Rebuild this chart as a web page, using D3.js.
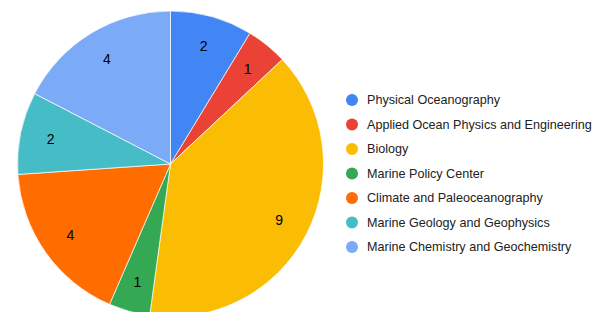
<!DOCTYPE html>
<html><head><meta charset="utf-8">
<script src="https://cdn.jsdelivr.net/npm/d3@7"></script>
<style>body{margin:0;background:#fff}svg{display:block}</style>
</head><body>
<svg id="c" width="599" height="312"></svg>
<script>
const categories = ["Physical Oceanography","Applied Ocean Physics and Engineering","Biology","Marine Policy Center","Climate and Paleoceanography","Marine Geology and Geophysics","Marine Chemistry and Geochemistry"];
const values = [2,1,9,1,4,2,4];
const colors = ["#4285F4","#EA4335","#FBBC04","#34A853","#FF6D01","#46BDC6","#7BAAF7"];

const svg = d3.select("#c");
const cx = 170.5, cy = 164, r = 153;
const data = categories.map((c,i)=>({name:c,value:values[i],color:colors[i]}));
const pie = d3.pie().value(d=>d.value).sort(null);
const arcs = pie(data);
const arc = d3.arc().innerRadius(0).outerRadius(r);
const labelArc = d3.arc().innerRadius(r*0.8).outerRadius(r*0.8);
const g = svg.append("g").attr("transform",`translate(${cx},${cy})`);
g.selectAll("path").data(arcs).join("path")
  .attr("d",arc).attr("fill",d=>d.data.color)
  .attr("stroke","#fff").attr("stroke-width",0.7);
g.selectAll("text").data(arcs).join("text")
  .attr("transform",d=>`translate(${labelArc.centroid(d)})`)
  .attr("text-anchor","middle").attr("dy","0.36em")
  .attr("font-family","'Liberation Sans', Arial, sans-serif").attr("font-size",14)
  .attr("fill","#000").text(d=>d.data.value);

const lg = svg.append("g");
const ly = d3.scalePoint().domain(categories).range([100,247]);
const item = lg.selectAll("g").data(data).join("g")
  .attr("transform",d=>`translate(352,${ly(d.name)})`);
item.append("circle").attr("r",6).attr("fill",d=>d.color);
item.append("text").attr("x",15).attr("dy","0.35em")
  .attr("font-family","'Liberation Sans', Arial, sans-serif").attr("font-size",12.6)
  .attr("fill","#222").text(d=>d.name);
</script>
</body></html>
